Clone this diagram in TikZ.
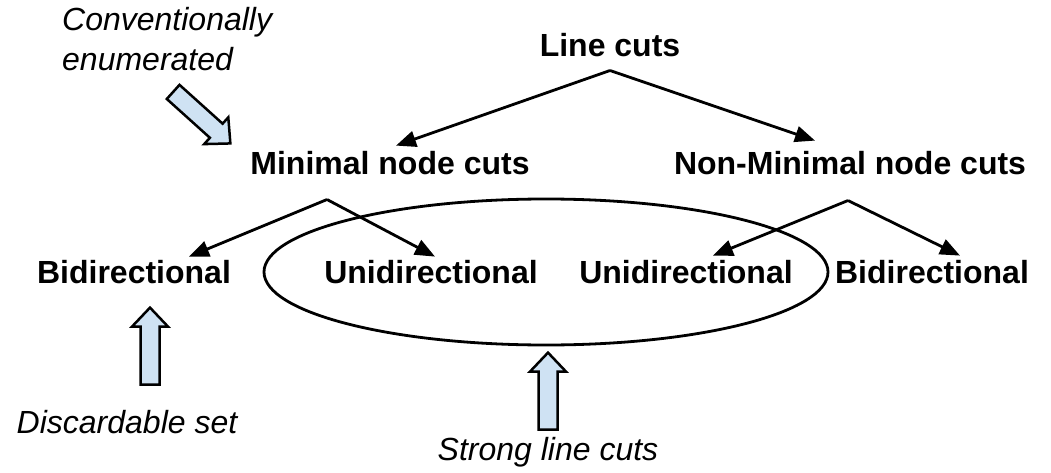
\documentclass[tikz,border=0pt]{standalone}
\usepackage{fontspec}
\setmainfont{Liberation Sans}
\usepackage{tikz}
\usetikzlibrary{arrows.meta,positioning,calc,shapes.geometric}
\usepackage{xcolor}
\definecolor{hintblue}{RGB}{207,226,243}

\begin{document}
\begin{tikzpicture}[x=1pt,y=-1pt,
  every node/.style={inner sep=0pt,font=\fontsize{32}{40}\selectfont},
  cutnode/.style={font=\fontsize{32}{40}\selectfont\bfseries,anchor=base},
  remark/.style={font=\fontsize{32}{40}\selectfont\itshape},
  link/.style={draw,line width=2.8pt,-{Triangle[length=20pt,width=16pt]}},
  hint/.pic={\draw[fill=hintblue,line width=2.5pt]
    (0,-9.5) -- (58,-9.5) -- (58,-18) -- (77,0) -- (58,18) -- (58,9.5) -- (0,9.5) -- cycle;}]
\useasboundingbox (0,0) rectangle (1051,473);
\fill[white] (0,0) rectangle (1051,473);

\node[cutnode] (line) at (610,57) {Line cuts};
\node[cutnode] (minimal) at (390,175) {Minimal node cuts};
\node[cutnode] (nonmin) at (850,175) {Non-Minimal node cuts};
\node[cutnode] (bidirL) at (134,283) {Bidirectional};
\node[cutnode] (unidirL) at (431,283) {Unidirectional};
\node[cutnode] (unidirR) at (686,283) {Unidirectional};
\node[cutnode] (bidirR) at (932,283) {Bidirectional};

% side notes
\node[remark,align=left,anchor=north west] (conv) at (62,7) {Conventionally\\enumerated};
\node[remark,anchor=base] (discard) at (127,433) {Discardable set};
\node[remark,anchor=base] (strong) at (548,460) {Strong line cuts};

% both unidirectional cuts together
\node[draw,ellipse,line width=2.8pt,minimum width=564pt,minimum height=146pt] (strongset) at (546,272) {};

\draw[link] ([yshift=-13pt]line.south) -- ([xshift=6pt,yshift=6pt]minimal.north);
\draw[link] ([yshift=-13pt]line.south) -- ([xshift=-35pt,yshift=11pt]nonmin.north);
\draw[link] ([xshift=-63pt,yshift=-24pt]minimal.south) -- ([xshift=55pt,yshift=3pt]bidirL.north);
\draw[link] ([xshift=-63pt,yshift=-24pt]minimal.south) -- ([xshift=4pt,yshift=3pt]unidirL.north);
\draw[link] ([xshift=-2pt,yshift=-25pt]nonmin.south) -- ([xshift=27pt,yshift=4pt]unidirR.north);
\draw[link] ([xshift=-2pt,yshift=-25pt]nonmin.south) -- ([xshift=28pt,yshift=4pt]bidirR.north);

% fat arrows from the notes
\pic[rotate=-42] at ([xshift=6pt,yshift=-21pt]conv.south) {hint};
\pic[rotate=90] at ([xshift=23pt,yshift=25pt]discard.north) {hint};
\pic[rotate=90] at ([yshift=7pt]strong.north) {hint};
\end{tikzpicture}
\end{document}
